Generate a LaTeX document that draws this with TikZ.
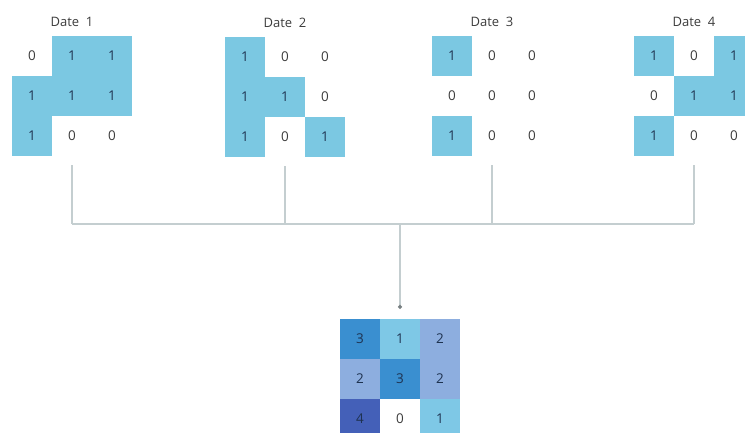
\documentclass[tikz,border=0pt]{standalone}
\usepackage{fontspec}
\setmainfont{Open Sans}
\usepackage{tikz}
\usetikzlibrary{positioning,arrows.meta}

\definecolor{cellblue}{RGB}{123,200,226}
\definecolor{sumone}{RGB}{126,200,230}
\definecolor{sumtwo}{RGB}{141,174,223}
\definecolor{sumthree}{RGB}{58,143,208}
\definecolor{sumfour}{RGB}{68,96,184}
\definecolor{wiregray}{RGB}{196,206,208}
\definecolor{dotgray}{RGB}{120,128,130}
\definecolor{numgray}{RGB}{60,60,60}
\definecolor{numnavy}{RGB}{30,50,80}

\tikzset{
	cell/.style={minimum size=40pt, inner sep=0pt, font=\fontsize{13.5}{15}\selectfont, text=numgray},
	b0/.style={},
	b1/.style={fill=cellblue, text=numnavy},
	v0/.style={},
	v1/.style={fill=sumone, text=numnavy},
	v2/.style={fill=sumtwo, text=numnavy},
	v3/.style={fill=sumthree, text=numnavy},
	v4/.style={fill=sumfour, text=numnavy},
	datelbl/.style={inner sep=0pt, font=\fontsize{13}{15}\selectfont, text=numgray},
	wire/.style={draw=wiregray, line width=1.1pt},
}

% 3x3 grid: name, left, top, style prefix, values
\newcommand\cellgrid[5]{%
	\foreach \val [count=\i from 0] in {#5} {
		\pgfmathtruncatemacro\row{div(\i,3)}
		\pgfmathtruncatemacro\col{mod(\i,3)}
		\node[cell, #4\val] (#1-\row-\col) at (#2+20+40*\col, #3+20+40*\row) {\val};
	}
}

\begin{document}
\begin{tikzpicture}[x=1pt, y=-1pt]
		\useasboundingbox (0,0) rectangle (745,433);

		% the four dates
		\cellgrid{d1}{12}{36}{b}{0,1,1,1,1,1,1,0,0}
		\cellgrid{d2}{225}{37}{b}{1,0,0,1,1,0,1,0,1}
		\cellgrid{d3}{432}{36}{b}{1,0,0,0,0,0,1,0,0}
		\cellgrid{d4}{634}{36}{b}{1,0,1,0,1,1,1,0,0}

		\node[datelbl, above=9pt of d1-0-1] (l1) {Date\ \ 1};
		\node[datelbl, above=9pt of d2-0-1] (l2) {Date\ \ 2};
		\node[datelbl, above=9pt of d3-0-1] (l3) {Date\ \ 3};
		\node[datelbl, above=9pt of d4-0-1] (l4) {Date\ \ 4};

		% summed result
		\cellgrid{s}{340}{319}{v}{3,1,2,2,3,2,4,0,1}

		% joining lines
		\foreach \g in {1,2,3,4} {
			\coordinate (t\g) at ([yshift=-9pt]d\g-2-1.south);
			\coordinate (j\g) at (t\g |- 0,224);
			\draw[wire] (t\g) -- (j\g);
		}
		\draw[wire] (j1) -- (j4);
		\coordinate (jc) at (s-0-1 |- 0,224);
		\draw[wire, -{Circle[length=4pt, color=dotgray]}, shorten >=10pt] (jc) -- (s-0-1.north);
	\end{tikzpicture}
\end{document}
